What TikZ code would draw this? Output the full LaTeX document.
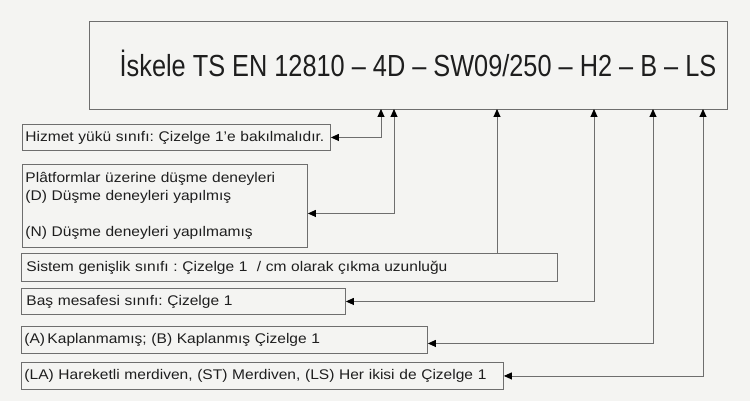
\documentclass[tikz,border=0pt]{standalone}
\usepackage{fontspec}
\setmainfont{Liberation Sans}[FakeStretch=1.11]
\newfontfamily\codefont{Liberation Sans}[FakeStretch=0.83]
\usetikzlibrary{arrows.meta}
\definecolor{bgcol}{HTML}{F4F4F2}
\definecolor{linecol}{HTML}{6E6E6E}
\definecolor{txtcol}{HTML}{1E1E1E}
\frenchspacing
\tikzset{
  lbox/.style={draw=linecol, line width=0.9pt, anchor=north west, inner sep=0pt, inner xsep=3pt,
    align=left, text=txtcol, font=\fontsize{14}{18}\selectfont},
  conn/.style={draw=linecol, line width=0.9pt},
  tip/.tip={Triangle[length=8pt, width=7pt, fill=black, color=black]}
}
\begin{document}
\begin{tikzpicture}[x=1pt, y=-1pt]
    \fill[bgcol] (0,0) rectangle (750,401);
    \useasboundingbox (0,0) rectangle (750,401);

    % main designation box
    \node[draw=linecol, line width=0.9pt, anchor=north west, minimum width=638pt, minimum height=88pt, inner sep=0pt] (top) at (89,21) {};
    \node[text=txtcol, font=\codefont\fontsize{30.5}{36}\selectfont] (code) at (418,63) {İskele TS EN 12810 – 4D – SW09/250 – H2 – B – LS};

    % explanation boxes
    \node[lbox, text width=302pt, minimum height=26pt] (hiz) at (22,124) {Hizmet yükü sınıfı: Çizelge 1’e bakılmalıdır.};
    \node[lbox, text width=279pt, minimum height=83pt] (plat) at (22,164) {Plâtformlar üzerine düşme deneyleri\\(D) Düşme deneyleri yapılmış\\[18pt](N) Düşme deneyleri yapılmamış};
    \node[lbox, text width=526pt, minimum height=28pt, inner xsep=5pt] (sis) at (21,253) {Sistem genişlik sınıfı : Çizelge 1 \ / cm olarak çıkma uzunluğu};
    \node[lbox, text width=314pt, minimum height=26pt, inner xsep=5pt] (bas) at (21,288) {Baş mesafesi sınıfı: Çizelge 1};
    \node[lbox, text width=400pt, minimum height=27pt] (kap) at (21,326) {(A)\,Kaplanmamış; (B) Kaplanmış Çizelge 1};
    \node[lbox, text width=476pt, minimum height=27pt] (la) at (21,362) {(LA) Hareketli merdiven, (ST) Merdiven, (LS) Her ikisi de Çizelge 1};

    % feet of the arrows on the main box
    \coordinate (f1) at (381,109);
    \coordinate (f2) at (394,109);
    \coordinate (f3) at (497,109);
    \coordinate (f4) at (594,109);
    \coordinate (f5) at (653,109);
    \coordinate (f6) at (703,109);

    \draw[conn, tip-tip] (hiz.east) -| (f1);
    \draw[conn, tip-tip] ([yshift=-7.5pt]plat.east) -| (f2);
    \draw[conn, -tip] (sis.north -| f3) -- (f3);
    \draw[conn, tip-tip] (bas.east) -| (f4);
    \draw[conn, tip-tip] ([yshift=-3.5pt]kap.east) -| (f5);
    \draw[conn, tip-tip] (la.east) -| (f6);

\end{tikzpicture}
\end{document}
